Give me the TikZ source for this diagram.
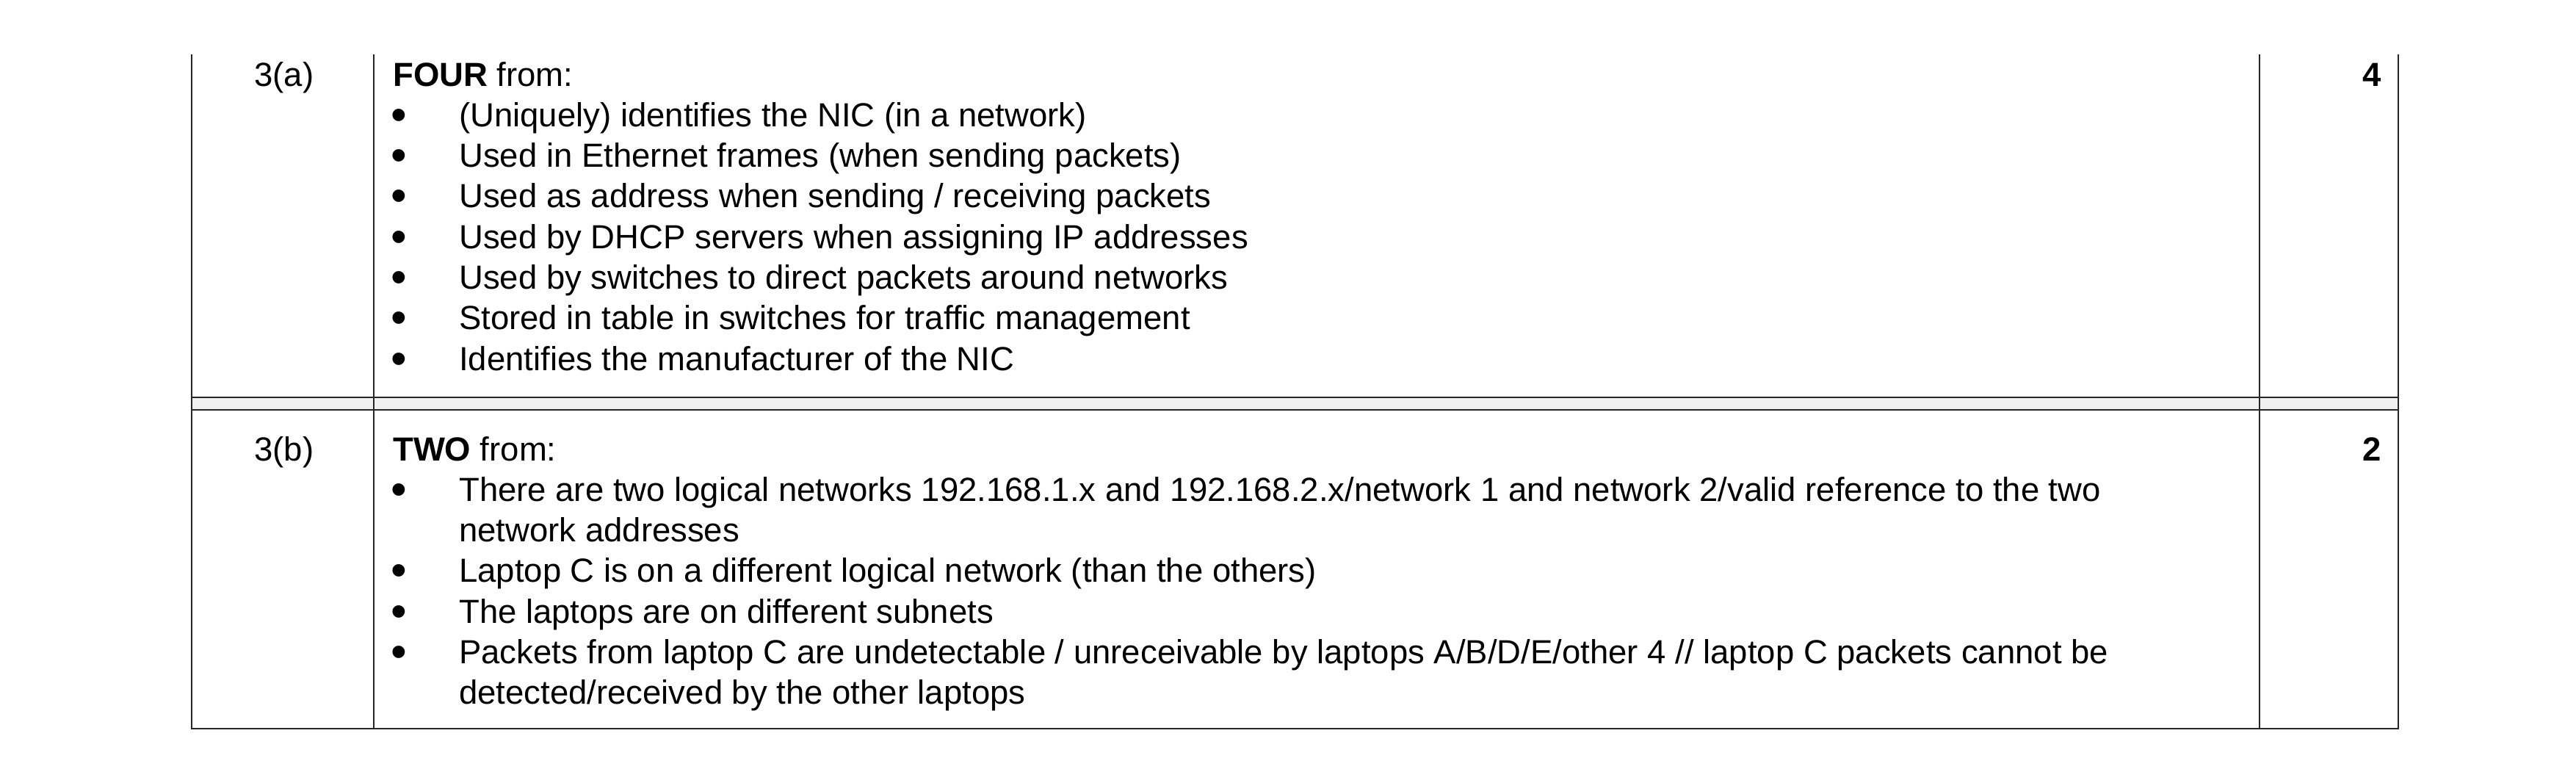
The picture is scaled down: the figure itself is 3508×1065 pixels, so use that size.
\documentclass[tikz,border=0pt]{standalone}
\usepackage{fontspec}
\setmainfont{Liberation Sans}
\begin{document}
\begin{tikzpicture}[x=1pt,y=-1pt,
  txt/.style={inner sep=0pt,anchor=base west,font=\fontsize{45.5}{55}\selectfont},
  bul/.style={inner sep=0pt,anchor=base west,font=\fontsize{62}{55}\selectfont},
  rule/.style={line width=2.2pt,black!85}]
\useasboundingbox (0,0) rectangle (3508,1065);
% table lines
\fill[black!6] (261,541) rectangle (3266,558);
\draw[rule] (261,74) -- (261,992) -- (3266,992) -- (3266,74);
\draw[rule] (509,74) -- (509,992);
\draw[rule] (3077,74) -- (3077,992);
\draw[rule] (261,541) -- (3266,541);
\draw[rule] (261,558) -- (3266,558);
% 3(a)
\node[txt,anchor=base] (qa) at (387,117) {3(a)};
\node[txt] (ha) at (535,117) {\textbf{FOUR} from:};
\node[txt,anchor=base east] (ma) at (3243,117) {\textbf{4}};
\foreach \t [count=\k] in {
 {(Uniquely) identifies the NIC (in a network)},
 {Used in Ethernet frames (when sending packets)},
 {Used as address when sending / receiving packets},
 {Used by DHCP servers when assigning IP addresses},
 {Used by switches to direct packets around networks},
 {Stored in table in switches for traffic management},
 {Identifies the manufacturer of the NIC}} {
  \node[bul] (ba\k) at (532,122+55.3*\k) {\textbullet};
  \node[txt] (ia\k) at (625,117+55.3*\k) {\t};
}
% 3(b)
\node[txt,anchor=base] (qb) at (387,627) {3(b)};
\node[txt] (hb) at (535,627) {\textbf{TWO} from:};
\node[txt,anchor=base east] (mb) at (3243,627) {\textbf{2}};
\node[bul] (bb1) at (532,687.3) {\textbullet};
\node[txt] (ib1) at (625,682.3) {There are two logical networks 192.168.1.x and 192.168.2.x/network 1 and network 2/valid reference to the two};
\node[txt] (ib1b) at (625,737.6) {network addresses};
\node[bul] (bb2) at (532,797.9) {\textbullet};
\node[txt] (ib2) at (625,792.9) {Laptop C is on a different logical network (than the others)};
\node[bul] (bb3) at (532,853.2) {\textbullet};
\node[txt] (ib3) at (625,848.2) {The laptops are on different subnets};
\node[bul] (bb4) at (532,908.5) {\textbullet};
\node[txt] (ib4) at (625,903.5) {Packets from laptop C are undetectable / unreceivable by laptops A/B/D/E/other 4 // laptop C packets cannot be};
\node[txt] (ib4b) at (625,958.8) {detected/received by the other laptops};
\end{tikzpicture}
\end{document}
